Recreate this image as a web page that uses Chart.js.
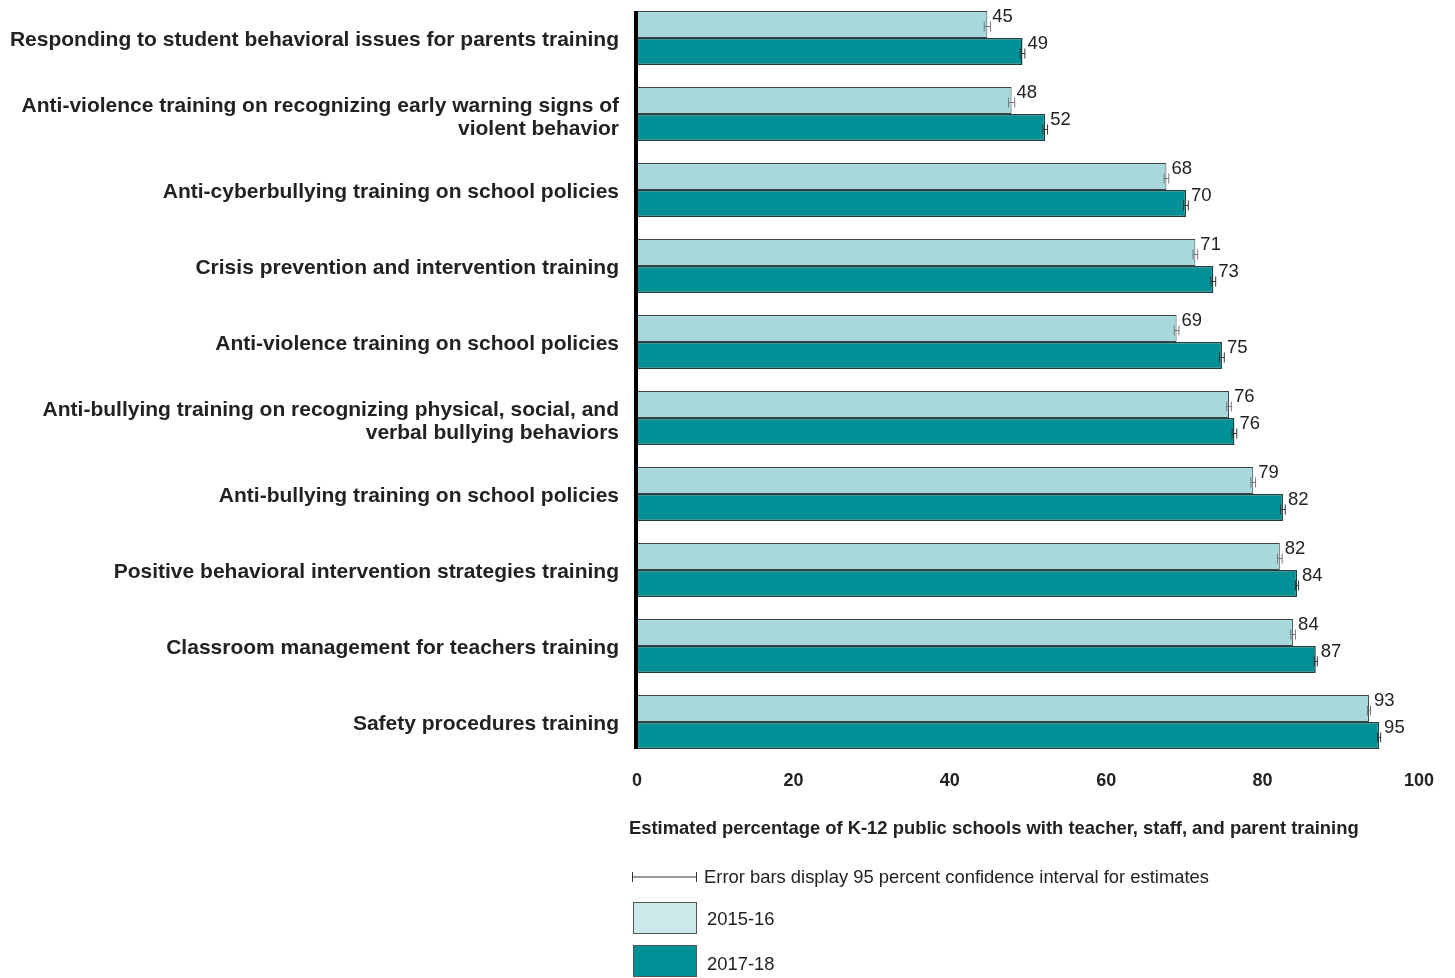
<!DOCTYPE html>
<html>
<head>
<meta charset="utf-8">
<script src="https://cdn.jsdelivr.net/npm/chart.js@4.4.1/dist/chart.umd.min.js"></script>
<style>
    html, body { margin: 0; padding: 0; background: #fff; }
    #wrap { position: relative; width: 1455px; height: 978px; }
</style>
</head>
<body>
<div id="wrap"><canvas id="chart" width="1455" height="978"></canvas></div>
<script>
var categories = [
    'Responding to student behavioral issues for parents training',
    ['Anti-violence training on recognizing early warning signs of', 'violent behavior'],
    'Anti-cyberbullying training on school policies',
    'Crisis prevention and intervention training',
    'Anti-violence training on school policies',
    ['Anti-bullying training on recognizing physical, social, and', 'verbal bullying behaviors'],
    'Anti-bullying training on school policies',
    'Positive behavioral intervention strategies training',
    'Classroom management for teachers training',
    'Safety procedures training'
];

// bar lengths, printed labels as shown
var values2015 = [44.8, 47.9, 67.7, 71.4, 69.0, 75.7, 78.8, 82.2, 83.9, 93.6];
var values2017 = [49.3, 52.2, 70.2, 73.7, 74.8, 76.4, 82.6, 84.4, 86.8, 94.9];
var labels2015 = [45, 48, 68, 71, 69, 76, 79, 82, 84, 93];
var labels2017 = [49, 52, 70, 73, 75, 76, 82, 84, 87, 95];
var err2015 = [0.4, 0.4, 0.3, 0.3, 0.3, 0.3, 0.3, 0.3, 0.3, 0.2];
var err2017 = [0.3, 0.3, 0.3, 0.3, 0.3, 0.3, 0.3, 0.2, 0.2, 0.2];

var xTicks = [0, 20, 40, 60, 80, 100];
var seriesNames = ['2015-16', '2017-18'];

var FONT = '"Liberation Sans", Arial, sans-serif';
var LIGHT = '#a7d9dc';
var DARK = '#009095';

var labels = [labels2015, labels2017];
var errors = [err2015, err2017];

var extrasPlugin = {
    id: 'extras',
    afterDatasetsDraw: function (chart) {
        var ctx = chart.ctx;
        var x = chart.scales.x;
        var yScale = chart.scales.y;

        ctx.save();

        // category labels
        ctx.fillStyle = '#222';
        ctx.font = 'bold 21px ' + FONT;
        ctx.textAlign = 'right';
        ctx.textBaseline = 'middle';
        categories.forEach(function (c, i) {
            var lines = Array.isArray(c) ? c : [c];
            var cy = yScale.getPixelForTick(i) + (lines.length > 1 ? 4 : 2);
            lines.forEach(function (line, j) {
                ctx.fillText(line, 619, cy + (j - (lines.length - 1) / 2) * 23);
            });
        });

        chart.data.datasets.forEach(function (ds, di) {
            var meta = chart.getDatasetMeta(di);
            meta.data.forEach(function (bar, i) {
                var v = ds.data[i];
                var e = errors[di][i];
                var x0 = x.getPixelForValue(v - e);
                var x1 = x.getPixelForValue(v + e);
                var y = bar.y + 2;

                // error bar
                ctx.strokeStyle = di === 0 ? '#777' : '#333';
                ctx.lineWidth = 1;
                ctx.beginPath();
                ctx.moveTo(x0, y);
                ctx.lineTo(x1, y);
                ctx.moveTo(x0, y - 5);
                ctx.lineTo(x0, y + 5);
                ctx.moveTo(x1, y - 5);
                ctx.lineTo(x1, y + 5);
                ctx.stroke();

                // value label
                ctx.fillStyle = '#222';
                ctx.font = '18.5px ' + FONT;
                ctx.textAlign = 'left';
                ctx.textBaseline = 'middle';
                ctx.fillText(String(labels[di][i]), x.getPixelForValue(v) + 5, bar.y - 8);
            });
        });

        // thick left axis
        var first = chart.getDatasetMeta(0).data[0];
        var last = chart.getDatasetMeta(1).data[categories.length - 1];
        var ax = x.getPixelForValue(0);
        ctx.fillStyle = '#000';
        ctx.fillRect(ax - 3, first.y - first.height / 2, 4, (last.y + last.height / 2) - (first.y - first.height / 2));

        // axis title
        ctx.fillStyle = '#222';
        ctx.font = 'bold 18.4px ' + FONT;
        ctx.textAlign = 'left';
        ctx.textBaseline = 'middle';
        ctx.fillText('Estimated percentage of K-12 public schools with teacher, staff, and parent training', 629, 829);

        // error bar legend
        ctx.strokeStyle = '#333';
        ctx.lineWidth = 1;
        ctx.beginPath();
        ctx.moveTo(632, 877);
        ctx.lineTo(697, 877);
        ctx.moveTo(632.5, 872);
        ctx.lineTo(632.5, 882);
        ctx.moveTo(696.5, 872);
        ctx.lineTo(696.5, 882);
        ctx.stroke();
        ctx.font = '18.4px ' + FONT;
        ctx.fillText('Error bars display 95 percent confidence interval for estimates', 704, 878);

        // series legend
        var swatch = [['#cbe9ea', 902, 920], [DARK, 945, 965]];
        swatch.forEach(function (s, i) {
            ctx.fillStyle = s[0];
            ctx.fillRect(633, s[1], 63, 31);
            ctx.strokeStyle = '#555';
            ctx.strokeRect(633.5, s[1] + 0.5, 63, 31);
            ctx.fillStyle = '#222';
            ctx.fillText(seriesNames[i], 707, s[2]);
        });
        ctx.restore();
    }
};

new Chart(document.getElementById('chart'), {
    type: 'bar',
    data: {
        labels: categories,
        datasets: [{
            label: seriesNames[0],
            data: values2015,
            backgroundColor: LIGHT,
            borderColor: '#444',
            borderWidth: 1,
            categoryPercentage: 0.71,
            barPercentage: 1.0
        }, {
            label: seriesNames[1],
            data: values2017,
            backgroundColor: DARK,
            borderColor: '#1d3f40',
            borderWidth: 1.5,
            categoryPercentage: 0.71,
            barPercentage: 1.0
        }]
    },
    options: {
        indexAxis: 'y',
        responsive: false,
        animation: false,
        layout: {
            padding: { top: 0, right: 36, bottom: 160, left: 0 }
        },
        plugins: {
            legend: { display: false },
            tooltip: { enabled: false }
        },
        scales: {
            x: {
                min: 0,
                max: 100,
                afterFit: function (scale) { scale.height = 58; },
                afterBuildTicks: function (scale) {
                    scale.ticks = xTicks.map(function (v) { return { value: v }; });
                },
                grid: { display: false, drawTicks: false },
                border: { display: false },
                ticks: {
                    padding: 10,
                    color: '#222',
                    font: { family: FONT, size: 18, weight: 'bold' }
                }
            },
            y: {
                afterFit: function (scale) { scale.width = 637; },
                grid: { display: false, drawTicks: false },
                border: { display: false },
                ticks: { display: false }
            }
        }
    },
    plugins: [extrasPlugin]
});
</script>
</body>
</html>
